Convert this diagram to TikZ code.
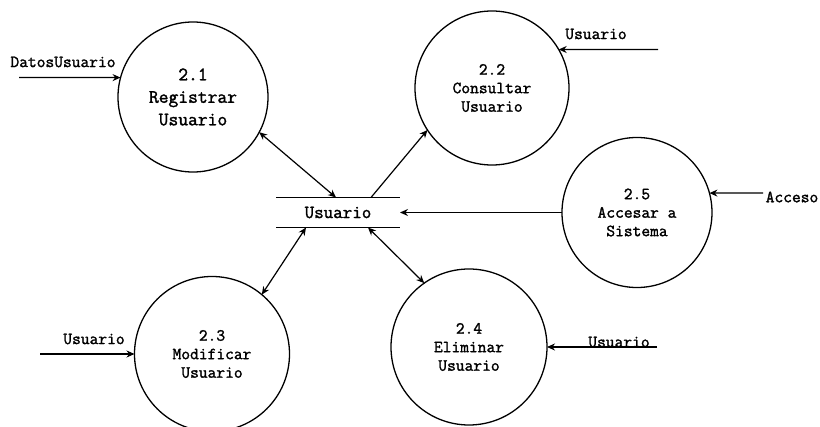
\documentclass[tikz,border=0pt]{standalone}
\usepackage{fontspec}
\newfontfamily\dfdfont[FakeBold=1.6]{Latin Modern Mono}
\usetikzlibrary{arrows.meta}
\begin{document}
\begin{tikzpicture}[x=1pt,y=-1pt,
  proc/.style={circle,draw,line width=1.3pt,minimum size=#1,inner sep=0pt,outer sep=0pt,
    align=center,font=\dfdfont\fontsize{17}{18.5}\selectfont},
  store/.style={minimum width=124pt,minimum height=30pt,inner sep=0pt,outer sep=0pt,
    font=\dfdfont\fontsize{18.5}{20}\selectfont},
  lbl/.style={inner sep=0pt,font=\dfdfont\fontsize{17}{18}\selectfont},
  tip/.tip={Stealth[length=8pt,width=7pt]},
  flow/.style={line width=1.2pt,-tip},
  biflow/.style={line width=1.2pt,tip-tip}]
  \fill[white] (0,0) rectangle (820,427);
  \useasboundingbox (0,0) rectangle (820,427);

  % processes
  \node[proc=150pt,font=\dfdfont\fontsize{19}{22.5}\selectfont] (p21) at (193,97) {2.1\\Registrar\\Usuario};
  \node[proc=154pt] (p22) at (492,88) {2.2\\Consultar\\Usuario};
  \node[proc=150pt] (p25) at (637,212.5) {2.5\\Accesar a\\Sistema};
  \node[proc=155pt] (p23) at (212,354) {2.3\\Modificar\\Usuario};
  \node[proc=156pt] (p24) at (469,347) {2.4\\Eliminar\\Usuario};

  % data store
  \node[store] (st) at (338,212.5) {Usuario};
  \draw[line width=1.4pt] (st.north west) -- (st.north east)
                          (st.south west) -- (st.south east);

  % external inputs
  \coordinate (in21) at (19,77.6);
  \coordinate (in22) at (658,49.5);
  \coordinate (in25) at (763,193.1);
  \coordinate (in23) at (40,354);
  \coordinate (in24) at (657,347);
  \node[lbl] (l21) at (63,62) {DatosUsuario};
  \node[lbl] (l22) at (596,34) {Usuario};
  \node[lbl] (l25) at (792,197) {Acceso};
  \node[lbl] (l23) at (94,339) {Usuario};
  \node[lbl] (l24) at (619,342) {Usuario};
  \draw[flow] (in21) -- (p21.165);
  \draw[flow] (in22) -- (p22.30);
  \draw[flow] (in25) -- (p25.15);
  \draw[flow] (in23) -- (p23.west);
  \draw[flow] (in24) -- (p24.east);

  % flows to and from the store
  \draw[biflow] (p21.-28) -- ([xshift=-2pt]st.north);
  \draw[flow] ([xshift=33pt]st.north) -- (p22.213);
  \draw[flow] (p25.west) -- (st.east);
  \draw[biflow] ([xshift=-32pt]st.south) -- (p23.50);
  \draw[biflow] ([xshift=30pt]st.south) -- (p24.125);
\end{tikzpicture}
\end{document}
